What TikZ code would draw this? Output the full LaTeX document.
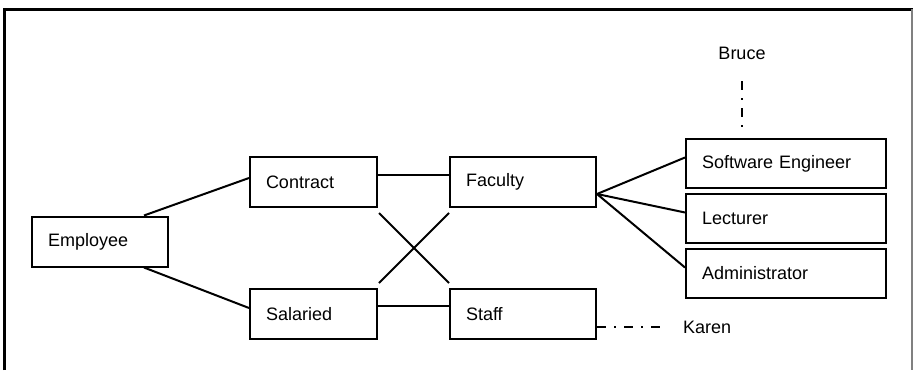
\documentclass[tikz,border=0pt]{standalone}
\usepackage{fontspec}
\setmainfont{Liberation Sans}
\usepackage{tikz}
\usetikzlibrary{positioning}
\tikzset{
  box/.style={
    rectangle,
    draw=black,
    line width=2pt,
    align=left,
    text width=#1,
    minimum height=50pt,
    inner xsep=16pt,
    inner ysep=0pt,
    font=\fontsize{18pt}{22pt}\selectfont
  },
  tag/.style={
    inner sep=0pt,
    font=\fontsize{18pt}{22pt}\selectfont
  },
  link/.style={
    line width=2pt,
    draw=black
  },
  dashdot/.style={
    line width=2pt,
    draw=black,
    dash pattern=on 9pt off 8pt on 2pt off 8pt
  }
}
\begin{document}
\begin{tikzpicture}[x=1pt,y=-1pt]
\useasboundingbox (0,0) rectangle (913,370);
% frame
\draw[line width=3pt] (4,370) -- (4,9) -- (913,9);
\draw[gray,line width=1.5pt] (912,9) -- (912,370);

% boxes
\node[box=104pt] (employee) at (100,241.5) {Employee};
\node[box=95pt] (contract) at (313.5,182) {Contract};
\node[box=95pt] (salaried) at (313.5,314) {Salaried};
\node[box=114pt] (faculty) at (523,182) {Faculty};
\node[box=114pt] (staff) at (523,314) {Staff};
\node[box=168pt,minimum height=49pt] (softeng) at (786,163.5) {Software Engineer};
\node[box=168pt,minimum height=49pt] (lecturer) at (786,218.5) {Lecturer};
\node[box=168pt,minimum height=49pt] (admin) at (786,273.5) {Administrator};

% instances
\node[tag] (bruce) at (742,53) {Bruce};
\node[tag,anchor=west] (karen) at (683,327) {Karen};
\coordinate (brucetip) at (742,132);

% links
\draw[link] ([xshift=-25pt]employee.north east) -- ([yshift=4pt]contract.west);
\draw[link] ([xshift=-25pt]employee.south east) -- ([yshift=6pt]salaried.west);
\draw[link] ([yshift=7pt]contract.east) -- ([yshift=7pt]faculty.west);
\draw[link] ([yshift=8pt]salaried.east) -- ([yshift=8pt]staff.west);
\draw[link] ([xshift=1pt,yshift=-5pt]contract.south east) -- ([yshift=5pt]staff.north west);
\draw[link] ([yshift=-5pt]faculty.south west) -- ([xshift=1pt,yshift=5pt]salaried.north east);
\foreach \n in {softeng,lecturer,admin}
  \draw[link] ([yshift=-12pt]faculty.east) -- ([yshift=6pt]\n.west);

% instance links
\draw[dashdot,shorten <=22pt] (bruce.south) -- (brucetip);
\draw[dashdot,shorten >=20pt] ([yshift=-13pt]staff.east) -- (karen.west);
\end{tikzpicture}
\end{document}
